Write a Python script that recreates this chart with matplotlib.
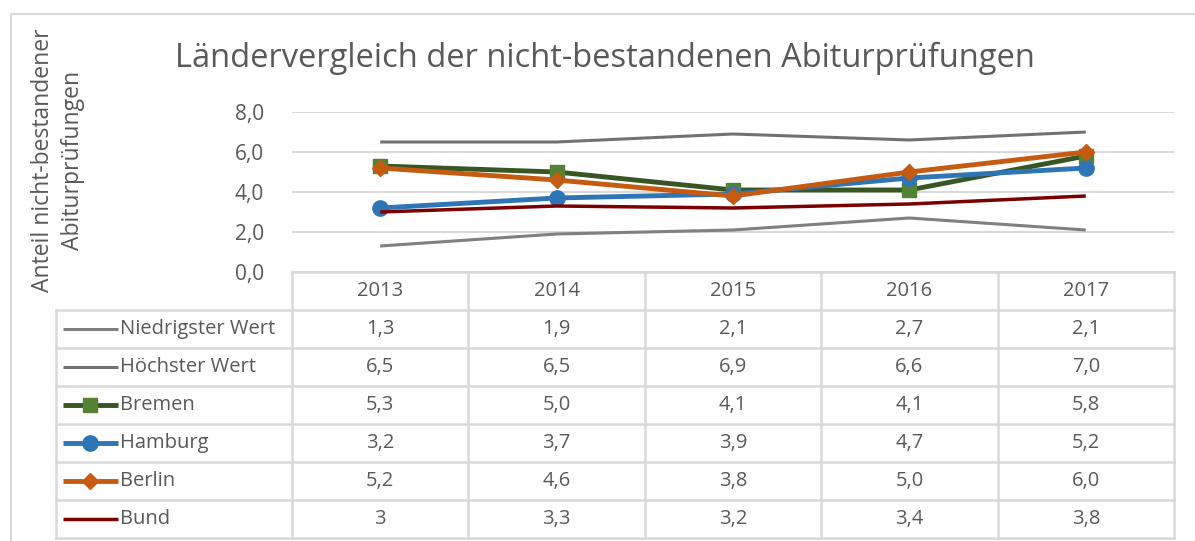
import matplotlib

matplotlib.use("Agg")
import matplotlib.pyplot as plt
from matplotlib.lines import Line2D

plt.rcParams["font.family"] = ["Open Sans", "DejaVu Sans"]

years = ["2013", "2014", "2015", "2016", "2017"]
series_names = ["Niedrigster Wert", "Höchster Wert", "Bremen", "Hamburg", "Berlin", "Bund"]
niedrigster = [1.3, 1.9, 2.1, 2.7, 2.1]
hoechster = [6.5, 6.5, 6.9, 6.6, 7.0]
bremen = [5.3, 5.0, 4.1, 4.1, 5.8]
hamburg = [3.2, 3.7, 3.9, 4.7, 5.2]
berlin = [5.2, 4.6, 3.8, 5.0, 6.0]
bund = [3.0, 3.3, 3.2, 3.4, 3.8]
table_labels = [
    ["1,3", "1,9", "2,1", "2,7", "2,1"],
    ["6,5", "6,5", "6,9", "6,6", "7,0"],
    ["5,3", "5,0", "4,1", "4,1", "5,8"],
    ["3,2", "3,7", "3,9", "4,7", "5,2"],
    ["5,2", "4,6", "3,8", "5,0", "6,0"],
    ["3", "3,3", "3,2", "3,4", "3,8"],
]
yticks = [0, 2, 4, 6, 8]

TEXT = "#595959"
GRID = "#d9d9d9"
FS = 14.5

styles = [
    dict(color="#808080", lw=2.2, marker=None),
    dict(color="#767171", lw=2.2, marker=None),
    dict(color="#375623", lw=3.5, marker="s", ms=10, mfc="#548235", mec="#548235"),
    dict(color="#2e75b6", lw=3.5, marker="o", ms=11, mfc="#2e75b6", mec="#2e75b6"),
    dict(color="#c55a11", lw=3.5, marker="D", ms=8, mfc="#c55a11", mec="#c55a11"),
    dict(color="#7b0000", lw=2.5, marker=None),
]
values = [niedrigster, hoechster, bremen, hamburg, berlin, bund]

W, H = 1195, 541
fig = plt.figure(figsize=(W / 100, H / 100), dpi=100)


def rect(x0, y0, x1, y1):
    return [x0 / W, 1 - y1 / H, (x1 - x0) / W, (y1 - y0) / H]


# outer chart frame
frame = Line2D([11 / W, 11 / W, 1.0], [0, 1 - 14 / H, 1 - 14 / H],
               transform=fig.transFigure, color=GRID, lw=1.5)
fig.add_artist(frame)

ax = fig.add_axes(rect(292, 112, 1174, 272))
x = list(range(len(years)))
for vals, st in zip(values, styles):
    ax.plot(x, vals, solid_capstyle="butt", **st)
ax.set_xlim(-0.5, len(years) - 0.5)
ax.set_ylim(0, 8)
ax.set_yticks(yticks)
ax.set_yticklabels([f"{v:.1f}".replace(".", ",") for v in yticks], fontsize=FS + 0.5, color=TEXT)
ax.set_xticks([])
ax.tick_params(axis="y", length=0, pad=20)
ax.grid(axis="y", color=GRID, lw=1.5)
ax.set_axisbelow(True)
for s in ax.spines.values():
    s.set_visible(False)

fig.text(605 / W, 1 - 58 / H, "Ländervergleich der nicht-bestandenen Abiturprüfungen",
         ha="center", va="center", fontsize=23.5, color=TEXT)
fig.text(58 / W, 1 - 160 / H, "Anteil nicht-bestandener\nAbiturprüfungen",
         rotation=90, ha="center", va="center", fontsize=16.5, color=TEXT,
         linespacing=1.3)

# data table below the plot
n_rows = len(series_names) + 1
label_w = (292 - 56) / ((1174 - 292) / len(years))
tab = fig.add_axes(rect(56, 272, 1174, 538))
tab.set_xlim(-0.5 - label_w, len(years) - 0.5)
tab.set_ylim(n_rows, 0)
tab.axis("off")
edge = dict(color=GRID, lw=1.8, clip_on=False)
# header row (only year columns)
tab.plot([-0.5, len(years) - 0.5], [0, 0], **edge)
for r in range(1, n_rows + 1):
    tab.plot([-0.5 - label_w, len(years) - 0.5], [r, r], **edge)
tab.plot([-0.5 - label_w] * 2, [1, n_rows], **edge)
for c in range(len(years) + 1):
    tab.plot([c - 0.5] * 2, [0, n_rows], **edge)
for c, yr in enumerate(years):
    tab.text(c, 0.5, yr, ha="center", va="center", fontsize=FS, color=TEXT)
for r, (name, st, row) in enumerate(zip(series_names, styles, table_labels), start=1):
    lx0 = -0.5 - label_w + 0.04
    lx1 = lx0 + 0.31
    tab.plot([lx0, lx1], [r + 0.5] * 2, color=st["color"], lw=st["lw"], solid_capstyle="butt")
    if st["marker"]:
        tab.plot([(lx0 + lx1) / 2], [r + 0.5], marker=st["marker"], ms=st["ms"],
                 mfc=st["mfc"], mec=st["mec"], ls="none")
    tab.text(lx1 + 0.015, r + 0.5, name, ha="left", va="center", fontsize=FS, color=TEXT)
    for c, txt in enumerate(row):
        tab.text(c, r + 0.5, txt, ha="center", va="center", fontsize=FS, color=TEXT)

fig.savefig("out.png", dpi=100, facecolor="white")
